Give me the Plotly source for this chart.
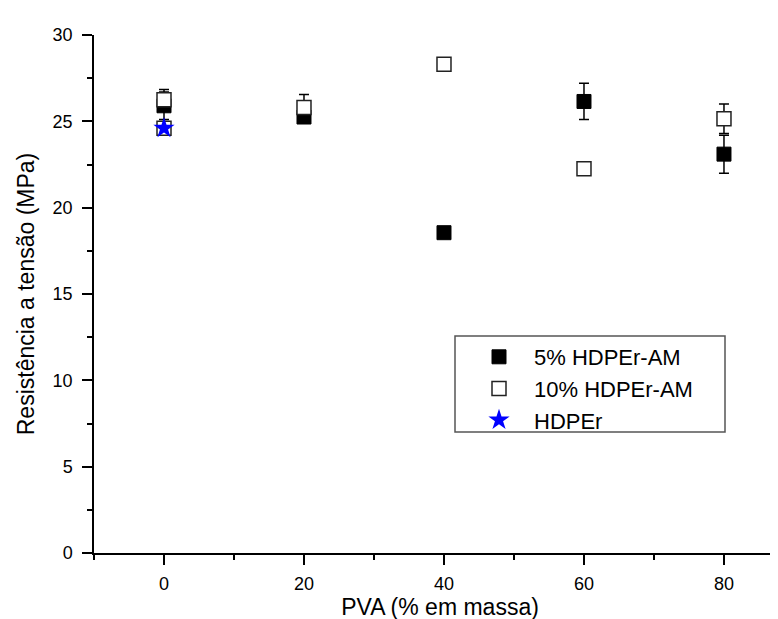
import plotly.graph_objects as go

pva = [0, 20, 40, 60, 80]
s5_vals = [25.9, 25.25, 18.55, 26.15, 23.1]
s5_err = [0.8, 0.3, 0.2, 1.05, 1.1]
s10_vals = [26.25, 25.8, 28.3, 22.25, 25.15]
s10_err = [0.6, 0.75, 0.3, 0.3, 0.85]
hdpe_x = [0]
hdpe_vals = [24.6]

FONT = "Liberation Sans, Arial, sans-serif"

# plot-area geometry (px)
L, T, W, H = 86, 27, 692, 518

fig = go.Figure()
fig.add_trace(go.Scatter(
    x=pva, y=s5_vals, mode="markers", name="5% HDPEr-AM",
    marker=dict(symbol="square", size=14, color="black", line=dict(color="black", width=1)),
    error_y=dict(type="data", array=s5_err, visible=True, color="black", thickness=1.5, width=5),
))
fig.add_trace(go.Scatter(
    x=pva, y=s10_vals, mode="markers", name="10% HDPEr-AM",
    marker=dict(symbol="square", size=14, color="white", line=dict(color="#222", width=1.5)),
    error_y=dict(type="data", array=s10_err, visible=True, color="black", thickness=1.5, width=5),
))
fig.add_trace(go.Scatter(
    x=hdpe_x, y=hdpe_vals, mode="markers", showlegend=False,
    marker=dict(symbol="square", size=14, color="white", line=dict(color="#222", width=1.5)),
))
fig.add_trace(go.Scatter(
    x=hdpe_x, y=hdpe_vals, mode="markers", name="HDPEr",
    marker=dict(symbol="star", size=16, color="#0000ff", line=dict(width=0)),
))

axis_common = dict(
    showgrid=False, zeroline=False, showline=True, linecolor="black", linewidth=1.5,
    ticks="outside", ticklen=10, tickwidth=1.5, tickcolor="black",
    tickfont=dict(family=FONT, size=18, color="black"),
    mirror=False, automargin=False,
)
fig.update_xaxes(
    range=[-10, 88.86], tickvals=pva, ticktext=[str(v) for v in pva],
    minor=dict(dtick=10, tick0=0, ticks="outside", ticklen=5, tickwidth=1.5, tickcolor="black"),
    ticklabelstandoff=4,
    title=dict(text="PVA (% em massa)", font=dict(family=FONT, size=23, color="black"), standoff=6),
    **axis_common,
)
fig.update_yaxes(
    range=[0, 30], dtick=5, tick0=0,
    minor=dict(dtick=2.5, tick0=0, ticks="outside", ticklen=5, tickwidth=1.5, tickcolor="black"),
    ticklabelstandoff=6,
    title=dict(text="Resistência a tensão (MPa)", font=dict(family=FONT, size=23, color="black"), standoff=12),
    **axis_common,
)

def px_x(p):
    return (p - L) / W

def px_y(p):
    return 1 - (p - T) / H

fig.update_layout(
    width=778, height=619,
    margin=dict(l=L, r=778 - L - W, t=T, b=619 - T - H),
    paper_bgcolor="white", plot_bgcolor="white",
    legend=dict(
        x=px_x(448), y=px_y(328), xanchor="left", yanchor="top",
        borderwidth=0, bgcolor="rgba(0,0,0,0)",
        font=dict(family=FONT, size=22, color="black"),
        itemwidth=60, indentation=8, tracegroupgap=0,
    ),
    shapes=[dict(
        type="rect", xref="paper", yref="paper",
        x0=px_x(447), x1=px_x(717), y0=px_y(424), y1=px_y(328),
        line=dict(color="#555", width=1.5), fillcolor="rgba(0,0,0,0)", layer="above",
    )],
    showlegend=True,
)
fig.write_html("out.html")
